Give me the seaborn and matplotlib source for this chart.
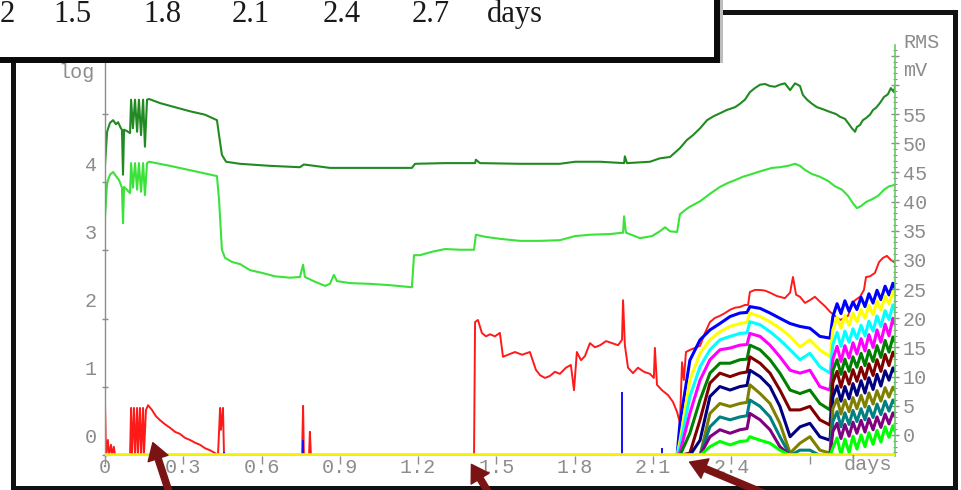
import matplotlib
matplotlib.use("Agg")
import matplotlib.pyplot as plt
import seaborn as sns
from matplotlib.patches import Rectangle, FancyArrowPatch
from matplotlib.transforms import ScaledTranslation
from matplotlib.ticker import FixedLocator

# ---------------- data ----------------
# dark green trace (left "log" scale)
dg_t = [0.000, 0.008, 0.019, 0.031, 0.042, 0.050, 0.061, 0.065, 0.069, 0.073, 0.084, 0.096,
        0.100, 0.107, 0.115, 0.123, 0.130, 0.138, 0.146, 0.153, 0.161, 0.169, 0.211, 0.268,
        0.326, 0.383, 0.429, 0.437, 0.448, 0.464, 0.517, 0.632, 0.747, 0.762, 0.862, 0.977,
        1.176, 1.188, 1.303, 1.418, 1.421, 1.437, 1.590, 1.743, 1.801, 1.897, 1.989, 1.992,
        2.000, 2.088, 2.126, 2.165, 2.203, 2.230, 2.253, 2.280, 2.307, 2.333, 2.356, 2.383,
        2.414, 2.433, 2.452, 2.471, 2.490, 2.510, 2.529, 2.548, 2.567, 2.586, 2.605, 2.625,
        2.644, 2.663, 2.674, 2.690, 2.709, 2.728, 2.751, 2.778, 2.801, 2.816, 2.835, 2.847,
        2.862, 2.874, 2.881, 2.893, 2.904, 2.916, 2.931, 2.943, 2.954, 2.969, 2.985, 3.000,
        3.011, 3.023, 3.027]
dg_log = [4.25, 4.74, 4.87, 4.91, 4.85, 4.88, 4.79, 4.77, 4.11, 4.77, 4.75, 4.72,
          5.21, 4.79, 5.21, 4.74, 5.21, 4.69, 5.21, 4.52, 5.21, 5.22, 5.16, 5.10,
          5.04, 4.99, 4.91, 4.69, 4.40, 4.30, 4.27, 4.24, 4.22, 4.26, 4.21, 4.21,
          4.21, 4.27, 4.28, 4.28, 4.33, 4.28, 4.27, 4.27, 4.30, 4.30, 4.28, 4.38,
          4.28, 4.30, 4.35, 4.37, 4.50, 4.62, 4.69, 4.79, 4.91, 4.97, 5.01, 5.06,
          5.10, 5.15, 5.21, 5.32, 5.38, 5.43, 5.44, 5.41, 5.40, 5.43, 5.45, 5.35,
          5.45, 5.41, 5.28, 5.21, 5.15, 5.10, 5.07, 5.03, 5.00, 4.96, 4.93, 4.87,
          4.79, 4.74, 4.81, 4.84, 4.91, 4.94, 4.99, 5.06, 5.09, 5.16, 5.25, 5.29,
          5.38, 5.32, 5.40]

# light green trace (left "log" scale)
lg_t = [0.000, 0.008, 0.019, 0.031, 0.042, 0.054, 0.065, 0.069, 0.073, 0.084, 0.096, 0.100,
        0.107, 0.115, 0.123, 0.130, 0.138, 0.146, 0.153, 0.161, 0.169, 0.249, 0.345, 0.429,
        0.437, 0.448, 0.460, 0.487, 0.517, 0.556, 0.602, 0.651, 0.709, 0.747, 0.759, 0.766,
        0.805, 0.843, 0.862, 0.877, 0.889, 0.939, 1.015, 1.092, 1.176, 1.184, 1.207, 1.253,
        1.303, 1.360, 1.414, 1.421, 1.456, 1.513, 1.590, 1.667, 1.743, 1.801, 1.858, 1.935,
        1.985, 1.989, 1.996, 2.050, 2.096, 2.126, 2.146, 2.165, 2.192, 2.203, 2.222, 2.241,
        2.280, 2.318, 2.356, 2.387, 2.414, 2.444, 2.471, 2.502, 2.529, 2.556, 2.586, 2.617,
        2.644, 2.663, 2.682, 2.709, 2.739, 2.770, 2.797, 2.824, 2.847, 2.866, 2.881, 2.897,
        2.916, 2.939, 2.962, 2.985, 3.004, 3.027]
lg_log = [3.48, 3.99, 4.11, 4.15, 4.09, 4.03, 3.92, 3.40, 3.93, 3.89, 3.84, 4.28,
          3.92, 4.28, 3.89, 4.28, 3.86, 4.28, 3.81, 4.28, 4.30, 4.24, 4.16, 4.09,
          3.74, 3.01, 2.89, 2.83, 2.80, 2.71, 2.67, 2.62, 2.60, 2.61, 2.79, 2.61,
          2.54, 2.48, 2.51, 2.64, 2.55, 2.52, 2.51, 2.49, 2.46, 2.93, 2.93, 2.98,
          3.02, 3.01, 3.01, 3.23, 3.20, 3.17, 3.14, 3.14, 3.15, 3.21, 3.23, 3.24,
          3.26, 3.50, 3.26, 3.18, 3.21, 3.28, 3.34, 3.28, 3.27, 3.53, 3.59, 3.64,
          3.72, 3.83, 3.93, 3.99, 4.03, 4.08, 4.11, 4.15, 4.18, 4.21, 4.22, 4.24,
          4.27, 4.24, 4.18, 4.12, 4.08, 4.02, 3.94, 3.89, 3.80, 3.69, 3.62, 3.65,
          3.71, 3.75, 3.80, 3.89, 3.94, 3.96]

# red trace (left "log" scale)
red_t = [0.000, 0.000, 0.004, 0.011, 0.015, 0.023, 0.027, 0.034, 0.038, 0.096, 0.100, 0.103,
         0.111, 0.115, 0.123, 0.126, 0.134, 0.138, 0.146, 0.149, 0.157, 0.165, 0.180, 0.195,
         0.211, 0.230, 0.249, 0.268, 0.287, 0.307, 0.326, 0.345, 0.364, 0.383, 0.402, 0.421,
         0.433, 0.441, 0.444, 0.448, 0.452, 0.456, 0.755, 0.759, 0.762, 0.782, 0.785, 0.789,
         1.414, 1.418, 1.429, 1.444, 1.460, 1.475, 1.494, 1.513, 1.525, 1.544, 1.571, 1.598,
         1.628, 1.651, 1.667, 1.686, 1.705, 1.724, 1.743, 1.766, 1.785, 1.797, 1.808, 1.824,
         1.839, 1.858, 1.877, 1.897, 1.920, 1.943, 1.966, 1.981, 1.985, 1.992, 2.004, 2.023,
         2.042, 2.065, 2.088, 2.103, 2.107, 2.115, 2.134, 2.157, 2.176, 2.192, 2.203, 2.211,
         2.218, 2.226, 2.241, 2.261, 2.280, 2.299, 2.318, 2.337, 2.356, 2.375, 2.395, 2.414,
         2.433, 2.452, 2.464, 2.471, 2.490, 2.510, 2.529, 2.548, 2.575, 2.605, 2.625, 2.636,
         2.648, 2.663, 2.682, 2.701, 2.720, 2.739, 2.759, 2.778, 2.797, 2.816, 2.835, 2.847,
         2.862, 2.874, 2.893, 2.908, 2.916, 2.931, 2.950, 2.966, 2.981, 2.996, 3.011, 3.027]
red_log = [0.00, 0.76, 0.00, 0.22, 0.00, 0.15, 0.00, 0.12, 0.00, 0.00, 0.69, 0.00,
           0.69, 0.00, 0.69, 0.00, 0.69, 0.00, 0.69, 0.00, 0.66, 0.73, 0.66, 0.57,
           0.51, 0.45, 0.40, 0.34, 0.31, 0.25, 0.22, 0.18, 0.15, 0.10, 0.07, 0.03,
           0.00, 0.69, 0.37, 0.51, 0.69, 0.00, 0.00, 0.72, 0.00, 0.00, 0.34, 0.00,
           0.00, 1.95, 1.98, 1.79, 1.74, 1.77, 1.74, 1.79, 1.44, 1.47, 1.51, 1.47,
           1.51, 1.25, 1.17, 1.13, 1.16, 1.22, 1.19, 1.28, 1.32, 0.95, 1.51, 1.39,
           1.45, 1.64, 1.58, 1.61, 1.67, 1.64, 1.61, 1.69, 2.27, 1.61, 1.28, 1.20,
           1.28, 1.22, 1.19, 1.13, 1.57, 1.03, 0.95, 0.88, 0.78, 0.63, 0.47, 1.36,
           1.10, 1.51, 1.54, 1.57, 1.60, 1.79, 1.95, 2.01, 2.04, 2.08, 2.13, 2.16,
           2.17, 2.20, 2.20, 2.39, 2.42, 2.42, 2.41, 2.38, 2.33, 2.30, 2.38, 2.61,
           2.35, 2.32, 2.23, 2.27, 2.32, 2.25, 2.18, 2.10, 2.04, 1.98, 2.01, 2.04,
           2.20, 2.27, 2.32, 2.42, 2.61, 2.62, 2.67, 2.83, 2.89, 2.92, 2.86, 2.82]

# isolated blue spikes (left "log" scale)
blue_spike_t = [0.000, 0.456, 0.759, 1.981, 2.134]
blue_spike_log = [0.32, 0.04, 0.22, 0.93, 0.10]

# channel bundle (right "RMS mV" scale)
bundle_t = [2.192, 2.203, 2.241, 2.280, 2.318, 2.356, 2.395, 2.433, 2.460, 2.471, 2.510, 2.548,
            2.586, 2.625, 2.663, 2.701, 2.739, 2.778,
            2.789, 2.805, 2.820, 2.835, 2.851, 2.866, 2.881, 2.897, 2.912, 2.927, 2.943, 2.958,
            2.973, 2.989, 3.004, 3.019, 3.027]
ch_blue = [-3.5, 2.0, 12.8, 16.3, 18.0, 19.1, 20.3, 20.9, 21.0, 22.0, 21.7, 20.9,
           20.0, 19.1, 18.6, 18.3, 16.9, 16.6,
           20.3, 22.5, 20.8, 23.0, 21.2, 22.8, 21.5, 23.6, 22.0, 24.2, 22.6, 24.8,
           23.2, 25.5, 24.0, 26.0, 25.2]
ch_yellow = [-3.5, -1.0, 9.4, 14.0, 16.3, 17.7, 18.6, 19.1, 19.3, 20.9, 20.3, 19.4,
             18.3, 16.9, 15.1, 16.3, 14.6, 13.4,
             18.0, 20.2, 18.3, 20.5, 18.8, 20.9, 19.4, 21.5, 20.0, 22.2, 20.6, 23.0,
             21.4, 23.8, 22.5, 24.6, 23.8]
ch_cyan = [-3.5, -2.0, 6.6, 11.7, 14.6, 16.3, 16.9, 17.4, 17.5, 19.4, 18.9, 17.7,
           16.3, 14.6, 12.9, 14.0, 11.7, 10.6,
           15.5, 17.6, 15.2, 17.8, 15.9, 18.2, 16.5, 18.8, 17.0, 19.5, 17.8, 20.4,
           18.6, 21.3, 19.8, 22.3, 21.4]
ch_magenta = [-3.5, -3.0, 3.7, 9.4, 12.9, 14.6, 14.9, 15.4, 15.5, 17.4, 16.9, 15.4,
              13.4, 11.1, 10.6, 11.1, 8.3, 7.7,
              13.0, 15.2, 12.6, 15.3, 13.2, 15.8, 13.9, 16.5, 14.4, 17.2, 15.0, 18.0,
              15.9, 19.0, 17.0, 20.0, 19.0]
ch_green = [-3.5, -3.5, 0.3, 6.0, 10.6, 12.3, 12.3, 12.9, 13.0, 15.4, 14.6, 12.9,
            10.6, 7.7, 7.1, 7.7, 5.4, 4.3,
            11.0, 12.9, 10.4, 13.0, 10.9, 13.4, 11.6, 14.0, 11.9, 14.5, 12.6, 15.3,
            13.3, 16.2, 14.2, 16.8, 16.0]
ch_maroon = [-3.5, -3.5, -3.1, 2.6, 8.9, 10.6, 10.0, 10.6, 10.8, 13.4, 12.3, 10.6,
             7.7, 4.3, 4.3, 4.9, 2.6, 1.7,
             9.0, 10.9, 8.2, 10.8, 8.7, 11.2, 9.2, 11.6, 9.6, 12.2, 10.2, 12.9,
             10.9, 13.8, 11.9, 14.2, 13.4]
ch_navy = [-3.5, -3.5, -3.5, -0.9, 6.6, 8.3, 7.7, 8.3, 8.5, 11.1, 10.0, 8.3,
           4.9, -0.3, 1.4, 2.0, -0.3, -0.9,
           6.5, 8.4, 5.8, 8.3, 6.2, 8.8, 6.8, 9.3, 7.2, 9.8, 7.8, 10.4,
           8.4, 11.0, 9.4, 11.5, 10.8]
ch_olive = [-3.5, -3.5, -3.5, -3.5, 3.7, 5.4, 4.9, 5.4, 5.6, 8.6, 7.1, 5.4,
            2.0, -3.1, -1.4, -0.3, -2.6, -3.1,
            4.5, 6.2, 3.6, 6.0, 4.0, 6.4, 4.5, 6.8, 4.8, 7.2, 5.3, 7.6,
            5.8, 8.1, 6.5, 8.2, 7.6]
ch_teal = [-3.5, -3.5, -3.5, -3.5, 1.4, 3.1, 2.6, 3.1, 3.3, 6.0, 4.9, 3.1,
           -0.3, -3.5, -2.6, -2.6, -3.5, -3.5,
           2.3, 4.0, 1.4, 3.8, 1.8, 4.2, 2.3, 4.5, 2.6, 4.9, 3.0, 5.3,
           3.5, 5.8, 4.1, 6.0, 5.4]
ch_purple = [-3.5, -3.5, -3.5, -3.5, -0.3, 0.9, 0.3, 0.9, 1.1, 3.7, 2.6, 0.9,
             -2.0, -3.5, -3.5, -3.5, -3.5, -3.5,
             0.6, 2.0, -0.6, 1.8, -0.2, 2.2, 0.3, 2.5, 0.5, 2.8, 0.9, 3.1,
             1.3, 3.6, 1.9, 3.8, 3.2]
ch_lime = [-3.5, -3.5, -3.5, -3.5, -2.0, -1.1, -1.7, -1.1, -1.0, -0.3, -0.9, -1.4,
           -2.6, -3.5, -3.5, -3.5, -3.5, -3.5,
           -2.2, -0.5, -3.4, -0.7, -3.0, -0.2, -2.4, 0.0, -2.0, 0.4, -1.6, 0.8,
           -1.2, 1.4, -0.4, 1.6, 0.6]

bundle_series = [ch_blue, ch_yellow, ch_cyan, ch_magenta, ch_green, ch_maroon,
                 ch_navy, ch_olive, ch_teal, ch_purple, ch_lime]
bundle_colors = ["#0000ff", "#ffff00", "#00ffff", "#ff00ff", "#008000", "#800000",
                 "#000080", "#808000", "#008080", "#800080", "#00ff00"]

x_ticks = [0, 0.3, 0.6, 0.9, 1.2, 1.5, 1.8, 2.1, 2.4, 2.7]
x_labels = ["0", "0.3", "0.6", "0.9", "1.2", "1.5", "1.8", "2.1", "2.4", ""]
left_ticks = [0, 1, 2, 3, 4, 5]
left_labels = ["0", "1", "2", "3", "4", ""]
right_major = [0, 5, 10, 15, 20, 25, 30, 35, 40, 45, 50, 55, 60, 65]
right_labels = ["0", "5", "10", "15", "20", "25", "30", "35", "40", "45", "50", "55", "", ""]
right_minor = list(range(-3, 67))
top_strip_labels = ["2", "1.5", "1.8", "2.1", "2.4", "2.7", "days"]
top_strip_px = [0, 72, 162, 251, 342, 431, 515]

# ---------------- figure ----------------
sns.set_theme(style="white")
plt.rcParams["font.family"] = ["Liberation Mono", "DejaVu Sans Mono"]

W, H = 961, 490
fig = plt.figure(figsize=(W / 100, H / 100), dpi=100)
fig.patch.set_facecolor("white")

def fx(px):
    return px / W

def fy(py):
    return 1 - py / H

GRAY = "#8c8c8c"
FS = 14.5

# outer frame
fig.add_artist(Rectangle((fx(12.5), fy(488)), fx(954.5) - fx(12.5), fy(12) - fy(488),
                         transform=fig.transFigure, facecolor="white", edgecolor="#111111",
                         linewidth=3.6, zorder=-5))

ax = fig.add_axes([fx(105), fy(456), fx(895) - fx(105), fy(45) - fy(456)])
ax.set_facecolor("none")
ax.set_xlim(0, 3.027)
ax.set_ylim(-0.0147, 6.012)
for s in ["top", "right", "bottom"]:
    ax.spines[s].set_visible(False)
ax.spines["left"].set_color(GRAY)
ax.spines["left"].set_linewidth(1.0)

sns.lineplot(x=dg_t, y=dg_log, ax=ax, color="#228a22", linewidth=1.5,
             estimator=None, sort=False, legend=False)
sns.lineplot(x=lg_t, y=lg_log, ax=ax, color="#3ae23a", linewidth=1.5,
             estimator=None, sort=False, legend=False)
sns.lineplot(x=red_t, y=red_log, ax=ax, color="#ff1a1a", linewidth=1.4,
             estimator=None, sort=False, legend=False)
ax.vlines(blue_spike_t, 0, blue_spike_log, colors="#1010ff", linewidth=1.4)

ax.set_xticks(x_ticks)
ax.set_xticklabels(x_labels)
ax.tick_params(axis="x", direction="out", length=5.8, width=1, color=GRAY,
               labelcolor=GRAY, labelsize=FS, pad=-4.3, bottom=True)
ax.set_yticks(left_ticks)
ax.set_yticklabels(left_labels)
ax.tick_params(axis="y", direction="inout", length=5, width=1, color=GRAY,
               labelcolor=GRAY, labelsize=FS, pad=3.2, left=True)
shift = ScaledTranslation(0, 19 / 100, fig.dpi_scale_trans)
for lab in ax.get_yticklabels():
    lab.set_transform(lab.get_transform() + shift)
ax.set_xlabel("")
ax.set_ylabel("")

# right axis (RMS mV)
ax2 = ax.twinx()
ax2.set_ylim(-3.6, 66.83)
for s in ["top", "left", "bottom"]:
    ax2.spines[s].set_visible(False)
ax2.spines["right"].set_color("#66cc66")
ax2.spines["right"].set_linewidth(1.2)
for ys, col in zip(bundle_series, bundle_colors):
    sns.lineplot(x=bundle_t, y=ys, ax=ax2, color=col, linewidth=2.2,
                 estimator=None, sort=False, legend=False)
ax2.axhline(-3.42, color="#f2f200", linewidth=2.6, zorder=10)
ax2.yaxis.set_major_locator(FixedLocator(right_major))
ax2.set_yticklabels(right_labels)
ax2.yaxis.set_minor_locator(FixedLocator(right_minor))
ax2.tick_params(axis="y", which="major", direction="inout", length=5.8, width=1,
                color=GRAY, labelcolor=GRAY, labelsize=FS, pad=2.9, right=True)
ax2.tick_params(axis="y", which="minor", direction="inout", length=2.9, width=0.8,
                color=GRAY, right=True)
ax2.set_ylabel("")

# axis captions
fig.text(fx(77), fy(78), "log", ha="center", va="baseline", color=GRAY, fontsize=FS)
fig.text(fx(903), fy(42), "RMS", ha="left", va="center", color=GRAY, fontsize=FS)
fig.text(fx(903), fy(70), "mV", ha="left", va="center", color=GRAY, fontsize=FS)
fig.text(fx(868), fy(464), "days", ha="center", va="center", color=GRAY, fontsize=FS)

# overlaid strip box (top-left)
fig.add_artist(Rectangle((fx(-20) + fx(3), fy(63)), fx(719.5) - fx(-20), fy(-20) - fy(60),
                         transform=fig.transFigure, facecolor="#bdbdbd", edgecolor="none",
                         zorder=9))
fig.add_artist(Rectangle((fx(-20), fy(60)), fx(716.5) - fx(-20), fy(-20) - fy(60),
                         transform=fig.transFigure, facecolor="white", edgecolor="#0a0a0a",
                         linewidth=4.3, zorder=10))
for i, (lab, px) in enumerate(zip(top_strip_labels, top_strip_px)):
    fig.text(fx(px), fy(22), lab, ha="left" if i == 0 else "center", va="baseline",
             fontsize=22, family=["Liberation Serif", "DejaVu Serif"],
             color="#1a1a1a", zorder=11)

# annotation arrows
arrows = [((170, 495), (152, 440)), ((490, 495), (470, 462)), ((768, 495), (687, 461))]
for (x0, y0), (x1, y1) in arrows:
    fig.add_artist(FancyArrowPatch((fx(x0), fy(y0)), (fx(x1), fy(y1)),
                                   transform=fig.transFigure,
                                   arrowstyle="simple,head_width=1.5,head_length=1.2,tail_width=0.45",
                                   mutation_scale=10, color="#7a1414", zorder=12))

fig.savefig("out.png", dpi=100)
